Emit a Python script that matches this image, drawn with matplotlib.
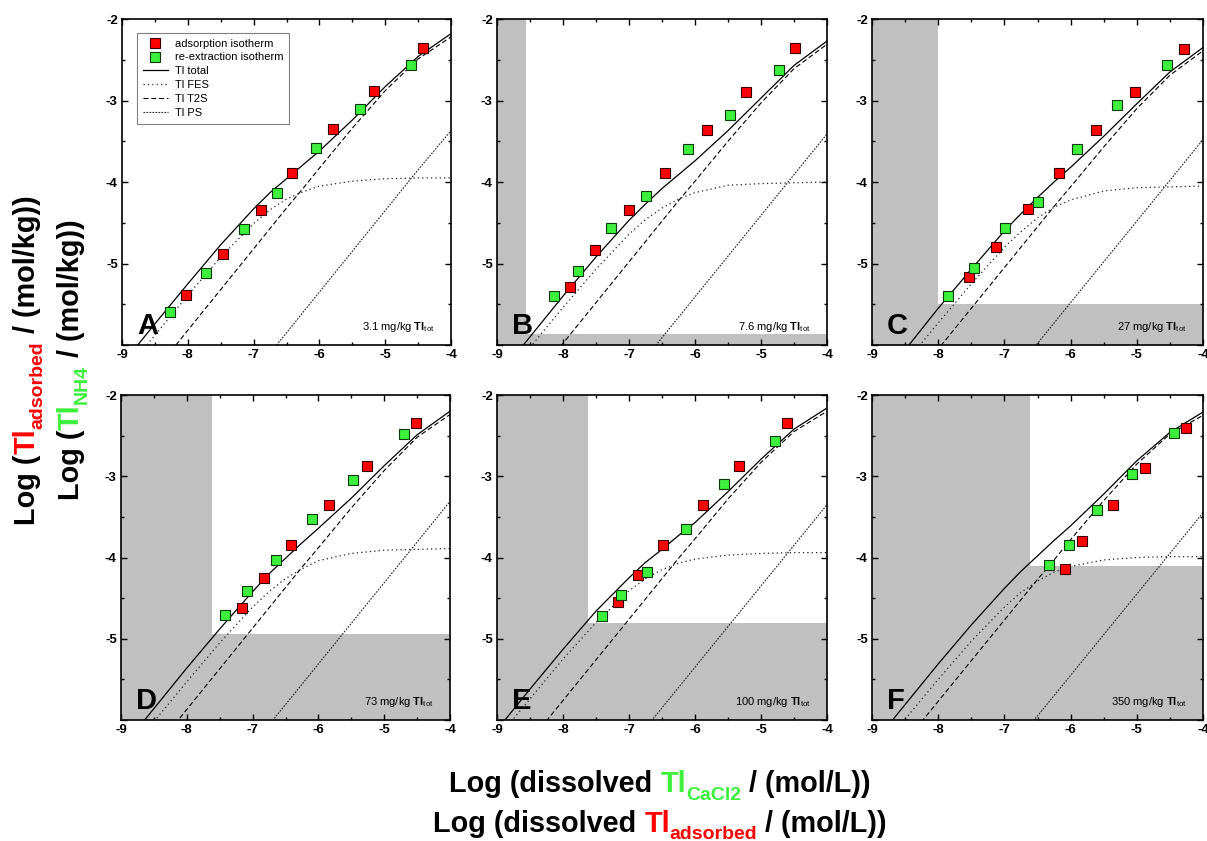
import matplotlib
matplotlib.use('Agg')
import matplotlib.pyplot as plt
from matplotlib.lines import Line2D
from matplotlib.ticker import MultipleLocator

plt.rcParams['font.family'] = ['Liberation Sans', 'DejaVu Sans']
plt.rcParams['mathtext.fontset'] = 'custom'
plt.rcParams['mathtext.rm'] = 'Liberation Sans'
plt.rcParams['mathtext.bf'] = 'Liberation Sans:bold'
plt.rcParams['mathtext.it'] = 'Liberation Sans:italic'
plt.rcParams['axes.unicode_minus'] = False

# ---------------- data ----------------
panel_letters = ['A', 'B', 'C', 'D', 'E', 'F']
conc_labels = ['3.1', '7.6', '27', '73', '100', '350']

model_x = [-9, -8.5, -8, -7.5, -7, -6.75, -6.5, -6.25, -6, -5.5, -5, -4.5, -4]

A_total = [-6.24, -5.74, -5.25, -4.77, -4.33, -4.13, -3.96, -3.79, -3.62, -3.24, -2.83, -2.46, -2.18]
A_fes = [-6.37, -5.88, -5.39, -4.92, -4.51, -4.34, -4.21, -4.12, -4.05, -3.99, -3.96, -3.95, -3.95]
A_t2s = [-6.82, -6.32, -5.82, -5.32, -4.82, -4.57, -4.32, -4.08, -3.83, -3.34, -2.88, -2.49, -2.22]
A_ps = [-8.35, -7.85, -7.35, -6.85, -6.35, -6.10, -5.85, -5.60, -5.35, -4.85, -4.35, -3.85, -3.37]

B_total = [-6.40, -5.90, -5.40, -4.92, -4.47, -4.27, -4.08, -3.91, -3.74, -3.37, -2.97, -2.57, -2.27]
B_fes = [-6.53, -6.03, -5.54, -5.07, -4.64, -4.46, -4.32, -4.21, -4.13, -4.04, -4.02, -4.01, -4.00]
B_t2s = [-6.98, -6.48, -5.98, -5.48, -4.98, -4.73, -4.48, -4.23, -3.99, -3.50, -3.03, -2.61, -2.31]
B_ps = [-8.41, -7.91, -7.41, -6.91, -6.41, -6.16, -5.91, -5.66, -5.41, -4.91, -4.41, -3.91, -3.41]

C_total = [-6.55, -6.06, -5.55, -5.07, -4.60, -4.39, -4.19, -4.00, -3.82, -3.44, -3.04, -2.65, -2.35]
C_fes = [-6.72, -6.22, -5.73, -5.25, -4.80, -4.61, -4.44, -4.31, -4.22, -4.11, -4.07, -4.06, -4.05]
C_t2s = [-7.05, -6.55, -6.05, -5.55, -5.05, -4.80, -4.55, -4.30, -4.06, -3.57, -3.10, -2.69, -2.39]
C_ps = [-8.48, -7.98, -7.48, -6.98, -6.48, -6.23, -5.98, -5.73, -5.48, -4.98, -4.48, -3.98, -3.48]

D_total = [-6.36, -5.86, -5.36, -4.88, -4.42, -4.20, -4.01, -3.82, -3.64, -3.27, -2.87, -2.49, -2.20]
D_fes = [-6.52, -6.02, -5.53, -5.05, -4.61, -4.42, -4.26, -4.14, -4.04, -3.95, -3.91, -3.90, -3.89]
D_t2s = [-6.87, -6.37, -5.87, -5.37, -4.87, -4.62, -4.37, -4.12, -3.88, -3.39, -2.93, -2.52, -2.24]
D_ps = [-8.31, -7.81, -7.31, -6.81, -6.31, -6.06, -5.81, -5.56, -5.31, -4.81, -4.31, -3.81, -3.31]

E_total = [-6.12, -5.62, -5.13, -4.66, -4.25, -4.06, -3.90, -3.73, -3.57, -3.19, -2.79, -2.42, -2.16]
E_fes = [-6.23, -5.74, -5.25, -4.80, -4.41, -4.26, -4.15, -4.07, -4.02, -3.97, -3.95, -3.94, -3.94]
E_t2s = [-6.76, -6.26, -5.76, -5.26, -4.76, -4.51, -4.26, -4.01, -3.77, -3.28, -2.83, -2.45, -2.20]
E_ps = [-8.35, -7.85, -7.35, -6.85, -6.35, -6.10, -5.85, -5.60, -5.35, -4.85, -4.35, -3.85, -3.35]

F_total = [-6.31, -5.81, -5.31, -4.83, -4.38, -4.17, -3.98, -3.79, -3.61, -3.22, -2.81, -2.46, -2.21]
F_fes = [-6.49, -5.99, -5.50, -5.03, -4.61, -4.43, -4.29, -4.18, -4.11, -4.03, -4.00, -3.99, -3.99]
F_t2s = [-6.77, -6.27, -5.77, -5.27, -4.77, -4.52, -4.27, -4.03, -3.78, -3.30, -2.85, -2.48, -2.25]
F_ps = [-8.45, -7.95, -7.45, -6.95, -6.45, -6.20, -5.95, -5.70, -5.45, -4.95, -4.45, -3.95, -3.45]

A_reex_x = [-8.27, -7.73, -7.15, -6.65, -6.05, -5.39, -4.61]
A_reex_y = [-5.60, -5.12, -4.58, -4.14, -3.58, -3.10, -2.56]
A_ads_x = [-8.02, -7.46, -6.88, -6.41, -5.79, -5.17, -4.43]
A_ads_y = [-5.39, -4.88, -4.34, -3.89, -3.35, -2.88, -2.35]

B_reex_x = [-8.13, -7.78, -7.28, -6.74, -6.10, -5.47, -4.72]
B_reex_y = [-5.40, -5.09, -4.56, -4.17, -3.60, -3.18, -2.62]
B_ads_x = [-7.89, -7.52, -7.00, -6.46, -5.82, -5.22, -4.49]
B_ads_y = [-5.29, -4.84, -4.34, -3.89, -3.36, -2.89, -2.36]

C_reex_x = [-7.85, -7.46, -6.99, -6.50, -5.91, -5.30, -4.55]
C_reex_y = [-5.40, -5.05, -4.56, -4.25, -3.60, -3.06, -2.56]
C_ads_x = [-7.54, -7.13, -6.65, -6.18, -5.61, -5.02, -4.29]
C_ads_y = [-5.17, -4.80, -4.33, -3.89, -3.36, -2.90, -2.37]

D_reex_x = [-7.42, -7.08, -6.65, -6.09, -5.47, -4.70]
D_reex_y = [-4.71, -4.41, -4.03, -3.53, -3.04, -2.48]
D_ads_x = [-7.16, -6.82, -6.42, -5.84, -5.26, -4.52]
D_ads_y = [-4.62, -4.25, -3.85, -3.35, -2.87, -2.35]

E_reex_x = [-7.41, -7.12, -6.73, -6.13, -5.56, -4.79]
E_reex_y = [-4.72, -4.46, -4.18, -3.65, -3.09, -2.56]
E_ads_x = [-7.16, -6.87, -6.49, -5.88, -5.33, -4.60]
E_ads_y = [-4.55, -4.22, -3.85, -3.35, -2.87, -2.35]

F_reex_x = [-6.33, -6.02, -5.60, -5.07, -4.44]
F_reex_y = [-4.09, -3.84, -3.41, -2.97, -2.47]
F_ads_x = [-6.08, -5.83, -5.36, -4.87, -4.26]
F_ads_y = [-4.14, -3.80, -3.35, -2.90, -2.40]

# detection-limit shading: left strip up to shade_x, bottom strip up to shade_y
shade_x = [None, -8.56, -8.0, -7.61, -7.62, -6.62]
shade_y = [None, -5.86, -5.5, -4.94, -4.80, -4.10]

totals = [A_total, B_total, C_total, D_total, E_total, F_total]
fess = [A_fes, B_fes, C_fes, D_fes, E_fes, F_fes]
t2ss = [A_t2s, B_t2s, C_t2s, D_t2s, E_t2s, F_t2s]
pss = [A_ps, B_ps, C_ps, D_ps, E_ps, F_ps]
reex_xs = [A_reex_x, B_reex_x, C_reex_x, D_reex_x, E_reex_x, F_reex_x]
reex_ys = [A_reex_y, B_reex_y, C_reex_y, D_reex_y, E_reex_y, F_reex_y]
ads_xs = [A_ads_x, B_ads_x, C_ads_x, D_ads_x, E_ads_x, F_ads_x]
ads_ys = [A_ads_y, B_ads_y, C_ads_y, D_ads_y, E_ads_y, F_ads_y]

# ---------------- styling ----------------
RED = '#ff0000'
GREEN = '#3cf03c'
GRAY = '#c0c0c0'
W, H = 1207, 841
fig = plt.figure(figsize=(W / 100, H / 100), dpi=100)

boxes = [(122, 19, 329, 326), (497, 19, 330, 326), (872, 19, 331, 326),
         (121, 395, 329, 325), (497, 395, 330, 325), (872, 395, 331, 325)]

ls_fes = (0, (1, 2.5))
ls_t2s = (0, (4.5, 2.5))
ls_ps = (0, (1.5, 1.2))

for i, (bx, by, bw, bh) in enumerate(boxes):
    ax = fig.add_axes([bx / W, 1 - (by + bh) / H, bw / W, bh / H])
    ax.set_xlim(-9, -4)
    ax.set_ylim(-6, -2)
    if shade_x[i] is not None:
        ax.axvspan(-9, shade_x[i], color=GRAY, lw=0, zorder=0)
        ax.axhspan(-6, shade_y[i], color=GRAY, lw=0, zorder=0)
    ax.plot(model_x, totals[i], color='black', lw=0.9, zorder=2)
    ax.plot(model_x, fess[i], color='#222222', lw=0.9, ls=ls_fes, zorder=2)
    ax.plot(model_x, t2ss[i], color='black', lw=0.8, ls=ls_t2s, zorder=2)
    ax.plot(model_x, pss[i], color='#222222', lw=0.8, ls=ls_ps, zorder=2)
    ax.plot(ads_xs[i], ads_ys[i], 's', ms=6.8, mfc=RED, mec='#3a0000', mew=0.8,
            ls='none', zorder=5)
    ax.plot(reex_xs[i], reex_ys[i], 's', ms=6.8, mfc=GREEN, mec='#0a3a0a', mew=0.8,
            ls='none', zorder=5)

    ax.set_xticks([-9, -8, -7, -6, -5, -4])
    ax.set_xticklabels(['-9', '-8', '-7', '-6', '-5', '-4'])
    ax.set_yticks([-6, -5, -4, -3, -2])
    ax.set_yticklabels(['', '-5', '-4', '-3', '-2'])
    ax.xaxis.set_minor_locator(MultipleLocator(0.5))
    ax.yaxis.set_minor_locator(MultipleLocator(0.5))
    ax.tick_params(which='both', direction='in', top=True, right=True,
                   width=1.0, labelsize=9.5, pad=3)
    ax.tick_params(which='major', length=4.5)
    ax.tick_params(which='minor', length=2.5)
    for lab in ax.get_xticklabels() + ax.get_yticklabels():
        lab.set_fontweight('bold')
    for sp in ax.spines.values():
        sp.set_linewidth(1.2)

    ax.text(0.045, 0.035, panel_letters[i], transform=ax.transAxes,
            fontsize=21, fontweight='bold', ha='left', va='baseline', zorder=6)
    ax.text(0.95, 0.045, conc_labels[i] + r' mg/kg $\mathbf{Tl}_{\mathrm{tot}}$',
            transform=ax.transAxes, fontsize=8, ha='right', va='baseline', zorder=6)

    if i == 0:
        handles = [
            Line2D([], [], marker='s', ms=6.8, mfc=RED, mec='#3a0000', mew=0.8, ls='none'),
            Line2D([], [], marker='s', ms=6.8, mfc=GREEN, mec='#0a3a0a', mew=0.8, ls='none'),
            Line2D([], [], color='black', lw=0.9),
            Line2D([], [], color='#222222', lw=0.9, ls=ls_fes),
            Line2D([], [], color='black', lw=0.8, ls=ls_t2s),
            Line2D([], [], color='#222222', lw=0.8, ls=ls_ps),
        ]
        labels = ['adsorption isotherm', 're-extraction isotherm', 'Tl total',
                  'Tl FES', 'Tl T2S', 'Tl PS']
        leg = ax.legend(handles, labels, loc='upper left', bbox_to_anchor=(0.046, 0.957),
                        borderaxespad=0, fontsize=8, frameon=True, fancybox=False,
                        edgecolor='#808080', framealpha=1, labelspacing=0.35,
                        handlelength=2.3, handletextpad=0.6, borderpad=0.5)
        leg.get_frame().set_linewidth(0.8)
        leg.set_zorder(7)

# ---------------- multi-coloured axis titles ----------------
renderer = fig.canvas.get_renderer()


def text_width(s, size):
    t1 = fig.text(0, 0, 'X' + s + 'X', fontsize=size, fontweight='bold')
    t2 = fig.text(0, 0, 'XX', fontsize=size, fontweight='bold')
    w = t1.get_window_extent(renderer).width - t2.get_window_extent(renderer).width
    t1.remove()
    t2.remove()
    return w


def rich_text(cx, cy, pieces, vertical=False):
    widths = [text_width(s, size) for s, _, size, _ in pieces]
    total = sum(widths)
    if not vertical:
        x = cx - total / 2
        for (s, col, size, dy), w in zip(pieces, widths):
            fig.text(x / W, (cy + dy) / H, s, color=col, fontsize=size,
                     fontweight='bold', ha='left', va='baseline')
            x += w
    else:
        y = cy - total / 2
        for (s, col, size, dy), w in zip(pieces, widths):
            fig.text((cx - dy) / W, y / H, s, color=col, fontsize=size,
                     fontweight='bold', ha='left', va='baseline',
                     rotation=90, rotation_mode='anchor')
            y += w


MAIN = 20.8
SUB = 14
SH = -7.7

rich_text(660, H - 792, [('Log (dissolved ', 'black', MAIN, 0),
                         ('Tl', GREEN, MAIN, 0),
                         ('CaCl2', GREEN, SUB, SH),
                         (' / (mol/L))', 'black', MAIN, 0)])
rich_text(660, H - 831.5, [('Log (dissolved ', 'black', MAIN, 0),
                           ('Tl', RED, MAIN, 0),
                           ('adsorbed', RED, SUB, SH),
                           (' / (mol/L))', 'black', MAIN, 0)])
rich_text(35, H - 360, [('Log (', 'black', MAIN, 0),
                        ('Tl', RED, MAIN, 0),
                        ('adsorbed', RED, SUB, SH),
                        (' / (mol/kg))', 'black', MAIN, 0)], vertical=True)
rich_text(79, H - 360, [('Log (', 'black', MAIN, 0),
                        ('Tl', GREEN, MAIN, 0),
                        ('NH4', GREEN, SUB, SH),
                        (' / (mol/kg))', 'black', MAIN, 0)], vertical=True)

fig.savefig('out.png', dpi=100)
